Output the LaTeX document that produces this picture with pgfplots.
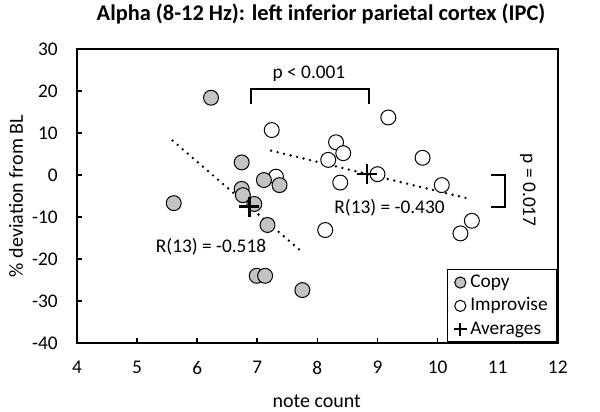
\documentclass[border=0pt]{standalone}
\usepackage{fontspec}
\setmainfont{Carlito}
\usepackage{pgfplots}
\pgfplotsset{compat=1.18}
\definecolor{cgray}{RGB}{195,195,195}
\begin{document}
\begin{tikzpicture}[font=\fontsize{14.5}{17}\selectfont]
\begin{axis}[
 scale only axis, width=360.6pt, height=220.5pt,
 xmin=4,xmax=12,ymin=-40,ymax=30,
 xtick={4,...,12}, ytick={-40,-30,...,30},
 axis line style={line width=1.2pt},
 tick align=inside, major tick length=4pt,
 tick style={black, line width=1.2pt},
 xtick pos=bottom, ytick pos=left,
 /pgf/number format/assume math mode=true,
 xticklabel shift=10pt,
 yticklabel shift=11pt,
 ticklabel style={font=\fontsize{14.5}{17}\selectfont},
 legend style={at={(rel axis cs:1,0)},anchor=south east, draw=black, line width=1.2pt,
   font=\fontsize{14.5}{17}\selectfont, row sep=0pt, inner ysep=1pt, inner xsep=4.5pt,
   nodes={text height=10pt, text depth=2.5pt, inner sep=2.5pt}},
 legend cell align=left,
 clip=false,
]
\addlegendimage{only marks, mark=*, mark size=4.2pt, mark options={fill=cgray, draw=black, line width=0.75pt}}
\addlegendentry{Copy}
\addlegendimage{only marks, mark=*, mark size=4.2pt, mark options={fill=white, draw=black, line width=0.75pt}}
\addlegendentry{Improvise}
\addlegendimage{only marks, mark=+, mark size=5pt, mark options={draw=black, line width=1.5pt}}
\addlegendentry{Averages}
% Improvise
\addplot[forget plot, only marks, mark=*, mark size=5.6pt, mark options={fill=white, draw=black, line width=0.75pt}] coordinates {
(9.18,13.7) (8.31,7.8) (8.43,5.2) (8.18,3.6) (9.75,4.1) (9.00,0.2) (8.38,-1.8)
(8.13,-13.1) (10.07,-2.4) (10.57,-10.9) (10.38,-13.9) (7.24,10.7) (7.31,-0.4)
};
% Copy
\addplot[forget plot, only marks, mark=*, mark size=5.6pt, mark options={fill=cgray, draw=black, line width=0.75pt}] coordinates {
(6.23,18.4) (6.74,3.0) (7.11,-1.2) (7.37,-2.4) (6.74,-3.3) (6.76,-4.8) (6.95,-6.9)
(5.61,-6.7) (7.17,-11.9) (6.99,-24.0) (7.13,-24.0) (7.75,-27.4)
};
% regression lines
\addplot[forget plot, black, line width=2pt, dash pattern=on 0pt off 5pt, line cap=round] coordinates {(5.59,8.2) (7.71,-17.9)};
\addplot[forget plot, black, line width=2pt, dash pattern=on 0pt off 5pt, line cap=round] coordinates {(7.23,5.8) (10.48,-5.5)};
% averages
\addplot[forget plot, only marks, mark=+, mark size=7.5pt, mark options={draw=black, line width=1.6pt}] coordinates {(6.87,-7.5) (8.82,0.2)};
% brackets
\addplot[forget plot, black, line width=1.5pt] coordinates {(6.9,16.9) (6.9,20.5) (8.86,20.5) (8.86,16.9)};
\addplot[forget plot, black, line width=1.5pt] coordinates {(10.89,0.0) (11.12,0.0) (11.12,-7.5) (10.89,-7.5)};
\node at (axis cs:7.86,24.0) {p < 0.001};
\node[rotate=-90] at (axis cs:11.5,-3.6) {p = 0.017};
\node at (axis cs:6.23,-17.1) {R(13) = -0.518};
\node at (axis cs:9.2,-7.9) {R(13) = -0.430};
\end{axis}
\node[font=\fontsize{16.8}{20}\selectfont\bfseries] at (183pt,247pt) {Alpha (8-12 Hz): left inferior parietal cortex (IPC)};
\node[font=\fontsize{15}{18}\selectfont] at (179.8pt,-43.5pt) {note count};
\node[rotate=90, font=\fontsize{15}{18}\selectfont] at (-45.75pt,110.25pt) {\% deviation from BL};
\pgfresetboundingbox
\useasboundingbox (-57.75pt,-51pt) rectangle (392.25pt,257.25pt);
\end{tikzpicture}
\end{document}
